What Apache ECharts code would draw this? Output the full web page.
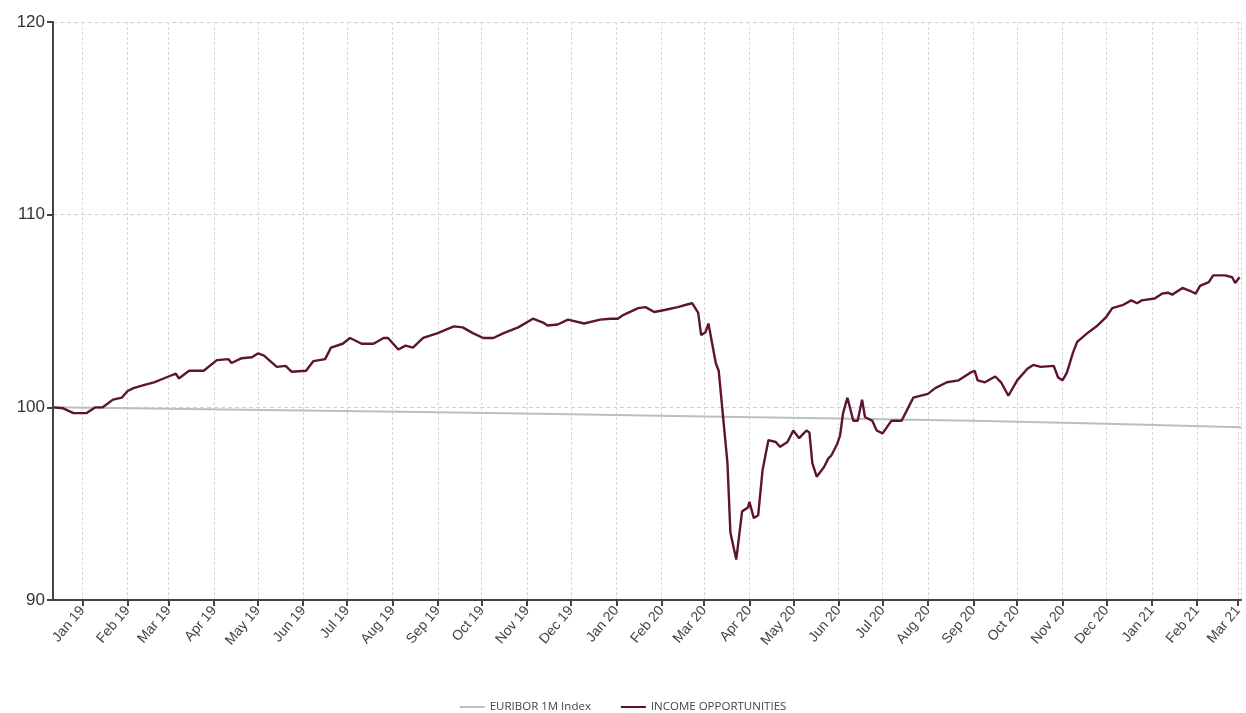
<!DOCTYPE html>
<html>
<head>
<meta charset="utf-8">
<script src="https://cdn.jsdelivr.net/npm/echarts@6/dist/echarts.min.js"></script>
<style>
html,body{margin:0;padding:0;background:#fff;}
#chart{width:1246px;height:713px;}
</style>
</head>
<body>
<div id="chart"></div>
<script>
var seriesNames = ['EURIBOR 1M Index', 'INCOME OPPORTUNITIES'];
var monthNames = ['Jan','Feb','Mar','Apr','May','Jun','Jul','Aug','Sep','Oct','Nov','Dec'];
var yTicks = [90, 100, 110, 120];

var euriborDates = ['2018-12-12','2019-03-01','2019-06-01','2019-09-01','2019-12-01','2020-03-01','2020-06-01','2020-09-01','2020-12-01','2021-03-03'];
var euriborValues = [100.0, 99.92, 99.83, 99.74, 99.64, 99.53, 99.42, 99.30, 99.15, 98.97];

var incomeDates = [
'2018-12-12','2018-12-19','2018-12-26','2019-01-04','2019-01-10','2019-01-15','2019-01-22','2019-01-28',
'2019-02-01','2019-02-05','2019-02-12','2019-02-19','2019-03-01','2019-03-06','2019-03-08','2019-03-15','2019-03-25',
'2019-04-03','2019-04-11','2019-04-13','2019-04-20','2019-04-27','2019-05-01','2019-05-05','2019-05-14','2019-05-20','2019-05-24',
'2019-06-03','2019-06-08','2019-06-16','2019-06-20','2019-06-28','2019-07-03','2019-07-11','2019-07-19','2019-07-26','2019-07-29',
'2019-08-05','2019-08-10','2019-08-15','2019-08-22','2019-09-01','2019-09-12','2019-09-18','2019-09-25',
'2019-10-02','2019-10-09','2019-10-16','2019-10-26','2019-11-05','2019-11-12','2019-11-15','2019-11-22','2019-11-29',
'2019-12-10','2019-12-21','2019-12-28','2020-01-02','2020-01-06','2020-01-16','2020-01-21','2020-01-27',
'2020-02-03','2020-02-12','2020-02-19','2020-02-22','2020-02-26','2020-02-28','2020-03-02','2020-03-04','2020-03-09','2020-03-11',
'2020-03-14','2020-03-17','2020-03-19','2020-03-23','2020-03-27','2020-03-31','2020-04-01','2020-04-04','2020-04-07','2020-04-10',
'2020-04-14','2020-04-19','2020-04-22','2020-04-27','2020-05-01','2020-05-05','2020-05-10','2020-05-12','2020-05-14','2020-05-17',
'2020-05-22','2020-05-25','2020-05-27','2020-05-31','2020-06-02','2020-06-04','2020-06-07','2020-06-11','2020-06-14','2020-06-17',
'2020-06-19','2020-06-24','2020-06-27','2020-07-01','2020-07-07','2020-07-14','2020-07-17','2020-07-22',
'2020-08-01','2020-08-06','2020-08-14','2020-08-22','2020-08-30','2020-09-02','2020-09-04','2020-09-09','2020-09-16','2020-09-20','2020-09-25',
'2020-10-01','2020-10-08','2020-10-12','2020-10-17','2020-10-26','2020-10-29','2020-11-01','2020-11-04','2020-11-08','2020-11-11',
'2020-11-18','2020-11-25','2020-12-01','2020-12-05','2020-12-12','2020-12-18','2020-12-22','2020-12-25',
'2021-01-03','2021-01-08','2021-01-12','2021-01-15','2021-01-22','2021-01-27','2021-01-31',
'2021-02-03','2021-02-09','2021-02-12','2021-02-20','2021-02-25','2021-02-27','2021-03-02'
];
var incomeValues = [
100.0, 99.95, 99.7, 99.7, 100.0, 100.0, 100.4, 100.5,
100.85, 101.0, 101.15, 101.3, 101.6, 101.75, 101.5, 101.9, 101.9,
102.45, 102.5, 102.3, 102.55, 102.6, 102.8, 102.7, 102.1, 102.15, 101.85,
101.9, 102.4, 102.5, 103.1, 103.3, 103.6, 103.3, 103.3, 103.6, 103.6,
103.0, 103.2, 103.1, 103.6, 103.85, 104.2, 104.15, 103.85,
103.6, 103.6, 103.85, 104.15, 104.6, 104.4, 104.25, 104.3, 104.55,
104.35, 104.55, 104.6, 104.6, 104.8, 105.15, 105.2, 104.95,
105.05, 105.2, 105.35, 105.4, 104.9, 103.75, 103.9, 104.35, 102.3, 101.9,
99.5, 97.1, 93.5, 92.1, 94.6, 94.8, 95.1, 94.25, 94.4, 96.75,
98.3, 98.2, 97.95, 98.2, 98.8, 98.4, 98.8, 98.7, 97.1, 96.4,
96.9, 97.35, 97.5, 98.1, 98.55, 99.7, 100.5, 99.3, 99.3, 100.4,
99.5, 99.3, 98.8, 98.65, 99.3, 99.3, 99.75, 100.5,
100.7, 101.0, 101.3, 101.4, 101.8, 101.9, 101.4, 101.3, 101.6, 101.3, 100.6,
101.4, 102.0, 102.2, 102.1, 102.15, 101.55, 101.4, 101.8, 102.8, 103.4,
103.85, 104.25, 104.7, 105.15, 105.3, 105.55, 105.4, 105.55,
105.65, 105.9, 105.95, 105.85, 106.2, 106.05, 105.9,
106.3, 106.5, 106.85, 106.85, 106.75, 106.45, 106.75
];

function zip(dates, values) {
  return dates.map(function (d, i) { return [d, values[i]]; });
}

var DAY = 24 * 3600 * 1000;
var chart = echarts.init(document.getElementById('chart'));
chart.setOption({
  animation: false,
  backgroundColor: '#ffffff',
  grid: { left: 53, right: 5, top: 22, bottom: 113, containLabel: false },
  legend: {
    top: 696,
    left: 'center',
    itemWidth: 25,
    itemHeight: 2,
    itemGap: 30,
    icon: 'rect',
    textStyle: { fontFamily: 'Open Sans', fontSize: 11.5, color: '#444' },
    data: seriesNames
  },
  xAxis: {
    type: 'time',
    min: '2018-12-12',
    max: '2021-03-03',
    minInterval: 28 * DAY,
    maxInterval: 31 * DAY,
    axisLine: { lineStyle: { color: '#444', width: 2 } },
    axisTick: { show: true, length: 6, lineStyle: { color: '#444', width: 2 } },
    axisLabel: {
      rotate: 50,
      fontFamily: 'Liberation Sans',
      fontSize: 14,
      color: '#444',
      margin: 8,
      showMinLabel: false,
      showMaxLabel: false,
      hideOverlap: false,
      formatter: function (v) {
        var d = new Date(v);
        return monthNames[d.getMonth()] + ' ' + String(d.getFullYear()).slice(2);
      }
    },
    splitLine: { show: true, lineStyle: { color: '#d8d8d8', type: [3, 2], width: 1 } }
  },
  yAxis: {
    type: 'value',
    min: yTicks[0],
    max: yTicks[yTicks.length - 1],
    interval: 10,
    axisLine: { show: true, lineStyle: { color: '#444', width: 2 } },
    axisTick: { show: true, length: 6, lineStyle: { color: '#444', width: 2 } },
    axisLabel: { fontFamily: 'Liberation Sans', fontSize: 17, color: '#333', margin: 8 },
    splitLine: { show: true, lineStyle: { color: '#d0d0d0', type: [4, 3], width: 1 } }
  },
  series: [
    {
      name: seriesNames[0],
      type: 'line',
      data: zip(euriborDates, euriborValues),
      showSymbol: false,
      symbol: 'none',
      lineStyle: { color: '#bdbdbd', width: 2 },
      itemStyle: { color: '#bdbdbd' },
      z: 2
    },
    {
      name: seriesNames[1],
      type: 'line',
      data: zip(incomeDates, incomeValues),
      showSymbol: false,
      symbol: 'none',
      lineStyle: { color: '#5e1336', width: 2.4 },
      itemStyle: { color: '#5e1336' },
      z: 3
    }
  ]
});
</script>
</body>
</html>
